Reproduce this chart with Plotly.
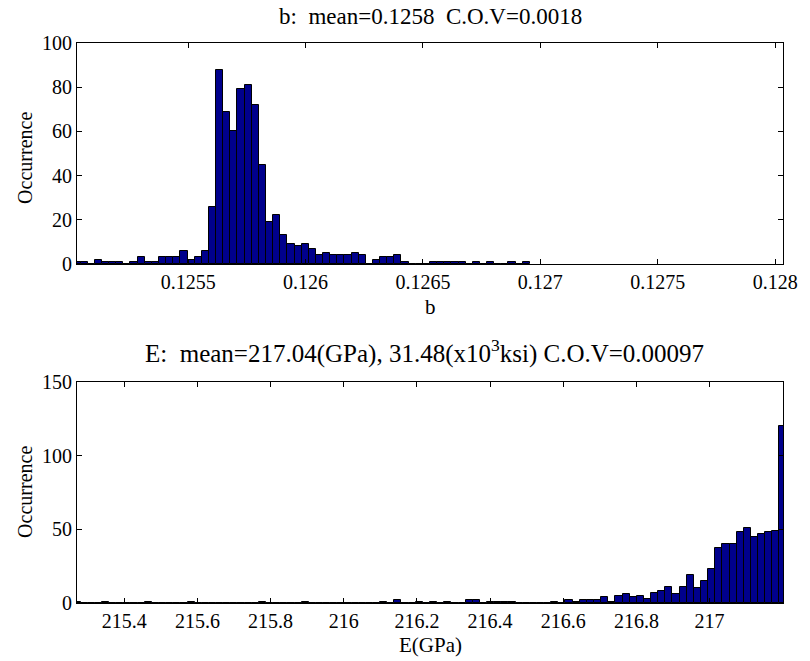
import plotly.graph_objects as go

# ---------------- data ----------------
# top histogram: parameter b (100 bins between first and last bin centre)
b_range = [0.1250264, 0.1280335]
b_nbins = 100
b_counts = [1, 1, 0, 2, 1, 1, 1, 0, 1, 3,
            1, 1, 3, 3, 3, 6, 2, 3, 6, 26,
            88, 69, 60, 79, 81, 72, 45, 19, 22, 13,
            9, 8, 9, 7, 4, 5, 4, 4, 4, 5,
            4, 0, 2, 3, 3, 4, 1, 0, 0, 0,
            1, 1, 1, 1, 1, 0, 1, 0, 1, 0,
            0, 1, 0, 1]
b_ticks = [0.1255, 0.126, 0.1265, 0.127, 0.1275, 0.128]
b_ticktext = ["0.1255", "0.126", "0.1265", "0.127", "0.1275", "0.128"]

# bottom histogram: E (GPa)
E_range = [215.2708, 217.2008]
E_nbins = 100
E_counts = [1, 0, 0, 0, 1, 0, 0, 0, 0, 0,
            1, 0, 0, 0, 0, 0, 1, 0, 0, 0,
            0, 0, 0, 0, 0, 0, 1, 0, 0, 0,
            0, 0, 1, 0, 0, 0, 0, 0, 0, 0,
            0, 0, 0, 1, 0, 2, 0, 0, 1, 0,
            1, 0, 1, 0, 0, 2, 2, 0, 1, 1,
            1, 1, 0, 0, 0, 0, 0, 1, 0, 2,
            1, 2, 2, 2, 4, 1, 5, 6, 4, 5,
            3, 7, 8, 11, 6, 11, 19, 10, 15, 23,
            37, 40, 40, 48, 51, 45, 47, 48, 49, 120]
E_ticks = [215.4, 215.6, 215.8, 216.0, 216.2, 216.4, 216.6, 216.8, 217.0]
E_ticktext = ["215.4", "215.6", "215.8", "216", "216.2", "216.4", "216.6", "216.8", "217"]

title_b = "b:  mean=0.1258  C.O.V=0.0018"
title_E = "E:  mean=217.04(GPa), 31.48(x10<sup>3</sup>ksi) C.O.V=0.00097"

# ---------------- figure ----------------
def centers(rng, n, count):
    w = (rng[1] - rng[0]) / (n - 1)
    return [rng[0] + k * w for k in range(count)], w

bx, bw = centers(b_range, b_nbins, len(b_counts))
ex, ew = centers(E_range, E_nbins, len(E_counts))

BAR = "#00008C"
FONT = "Liberation Serif"

fig = go.Figure()
fig.add_trace(go.Bar(x=bx, y=b_counts, width=bw, marker=dict(color=BAR, line=dict(color="black", width=1)),
                     xaxis="x", yaxis="y", showlegend=False))
fig.add_trace(go.Bar(x=ex, y=E_counts, width=ew, marker=dict(color=BAR, line=dict(color="black", width=1)),
                     xaxis="x2", yaxis="y2", showlegend=False))

axis_common = dict(showline=True, linecolor="black", linewidth=1, mirror="ticks", ticks="inside",
                   ticklen=5, tickcolor="black", showgrid=False, zeroline=False,
                   tickfont=dict(family=FONT, size=20, color="black"))

W, H = 810, 661
ml, mr, mt, mb = 77, 15, 43, 58
ph = H - mt - mb
top_lo = (603 - 264) / ph
bot_hi = (603 - 382) / ph

fig.update_layout(
    width=W, height=H,
    margin=dict(l=ml, r=mr, t=mt, b=mb),
    paper_bgcolor="white", plot_bgcolor="white",
    bargap=0,
    xaxis=dict(domain=[0, 1], anchor="y", range=b_range, tickvals=b_ticks, ticktext=b_ticktext, **axis_common),
    yaxis=dict(domain=[top_lo, 1], anchor="x", range=[0, 100], tickvals=[0, 20, 40, 60, 80, 100], **axis_common),
    xaxis2=dict(domain=[0, 1], anchor="y2", range=E_range, tickvals=E_ticks, ticktext=E_ticktext, **axis_common),
    yaxis2=dict(domain=[0, bot_hi], anchor="x2", range=[0, 150], tickvals=[0, 50, 100, 150], **axis_common),
)

def px2paper(px, py):
    return (px - ml) / (W - ml - mr), (H - mb - py) / ph

annots = [
    (title_b, 436, 17, 0, 23),
    (title_E, 430, 351, 0, 25),
    ("b", 436, 307, 0, 21),
    ("E(GPa)", 436, 645, 0, 21),
    ("Occurrence", 24, 158, -90, 20),
    ("Occurrence", 24, 492, -90, 20),
]
for text, px, py, ang, size in annots:
    xp, yp = px2paper(px, py)
    fig.add_annotation(text=text, x=xp, y=yp, xref="paper", yref="paper", showarrow=False,
                       textangle=ang, xanchor="center", yanchor="middle",
                       font=dict(family=FONT, size=size, color="black"))

fig.write_html("out.html")
